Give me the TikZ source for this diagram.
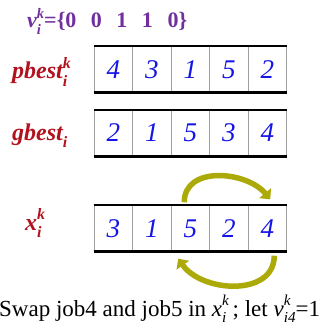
\documentclass[tikz,border=0pt]{standalone}
\usepackage{fontspec}
\setmainfont{Liberation Serif}
\usepackage{tikz}
\usetikzlibrary{arrows.meta}

\definecolor{vpurple}{RGB}{112,48,160}
\definecolor{lblred}{RGB}{178,18,30}
\definecolor{numblue}{RGB}{20,20,230}
\definecolor{swapolive}{RGB}{172,170,8}

% base with superscript and subscript stacked
\makeatletter
\newcommand{\idxsize}{\fontsize{\strip@pt\dimexpr0.66\dimexpr\f@size pt\relax\relax}{0}\selectfont}
\makeatother
\newcommand{\supsub}[3]{#1\begingroup
  \setbox0\hbox{\raisebox{0.45em}{\idxsize #2}}%
  \setbox2\hbox{\raisebox{-0.3em}{\idxsize #3}}%
  \ifdim\wd0>\wd2 \rlap{\box2}\box0\else\rlap{\box0}\box2\fi\endgroup}

\begin{document}
\begin{tikzpicture}[
    x=1pt, y=-1pt,
    cell/.style    = {rectangle, draw=gray!75, line width=0.9pt,
                      minimum width=38.5pt, minimum height=45.5pt,
                      inner sep=0pt, text=numblue,
                      font=\fontsize{27}{27}\selectfont\itshape},
    rowtop/.style  = {line width=2pt, black},
    rowbot/.style  = {line width=2.6pt, black},
    lbl/.style     = {anchor=base west, inner sep=0pt, text=lblred,
                      font=\fontsize{24}{24}\selectfont\bfseries\itshape},
    swaparr/.style = {line width=5.5pt, swapolive,
                      -{Triangle[length=8pt, width=15pt]}}
]
\useasboundingbox (0,0) rectangle (322,331);

%% ---- top line: velocity ----
\node[anchor=base west, inner sep=0pt, text=vpurple,
      font=\fontsize{22}{22}\selectfont\bfseries] (vel) at (27,28)
      {\textit{\supsub{v}{k}{i}}=\{0\hspace{0.66em}0\hspace{0.66em}1\hspace{0.66em}1\hspace{0.66em}0\}};

%% ---- rows of cells ----
\foreach \v [count=\i] in {4,3,1,5,2}
  \node[cell] (p\i) at ({94+38.5*(\i-0.5)}, 69.5) {\v};
\foreach \v [count=\i] in {2,1,5,3,4}
  \node[cell] (g\i) at ({94+38.5*(\i-0.5)}, 133) {\v};
\foreach \v [count=\i] in {3,1,5,2,4}
  \node[cell] (x\i) at ({94+38.5*(\i-0.5)}, 228.5) {\v};

%% thick top and bottom edges
\foreach \r in {p,g,x} {
  \draw[rowtop] (\r1.north west) -- (\r5.north east);
  \draw[rowbot] (\r1.south west) -- (\r5.south east);
}

%% ---- row labels ----
\node[lbl] (plbl) at (12,79)  {\supsub{pbest}{k}{i}};
\node[lbl] (glbl) at (12,140) {\supsub{gbest}{}{i}};
\node[lbl] (xlbl) at (25,230) {\supsub{x}{k}{i}};

%% ---- swap arrows ----
\draw[swaparr] ([shift={(-6pt,3pt)}]x3.north)
    to[out=90, in=130, looseness=1.1] ([shift={(3pt,6pt)}]x5.north);
\draw[swaparr] ([shift={(7pt,-4pt)}]x5.south)
    to[out=-90, in=-55, looseness=1.1] ([shift={(-12pt,-7pt)}]x3.south);

%% ---- caption ----
\node[anchor=base west, inner sep=0pt,
      font=\fontsize{23}{23}\selectfont] (note) at (-1,316)
      {Swap job4 and job5 in \textit{\supsub{x}{k}{i}}\,; let \textit{\supsub{v}{k}{i4}}=1};

\end{tikzpicture}
\end{document}
